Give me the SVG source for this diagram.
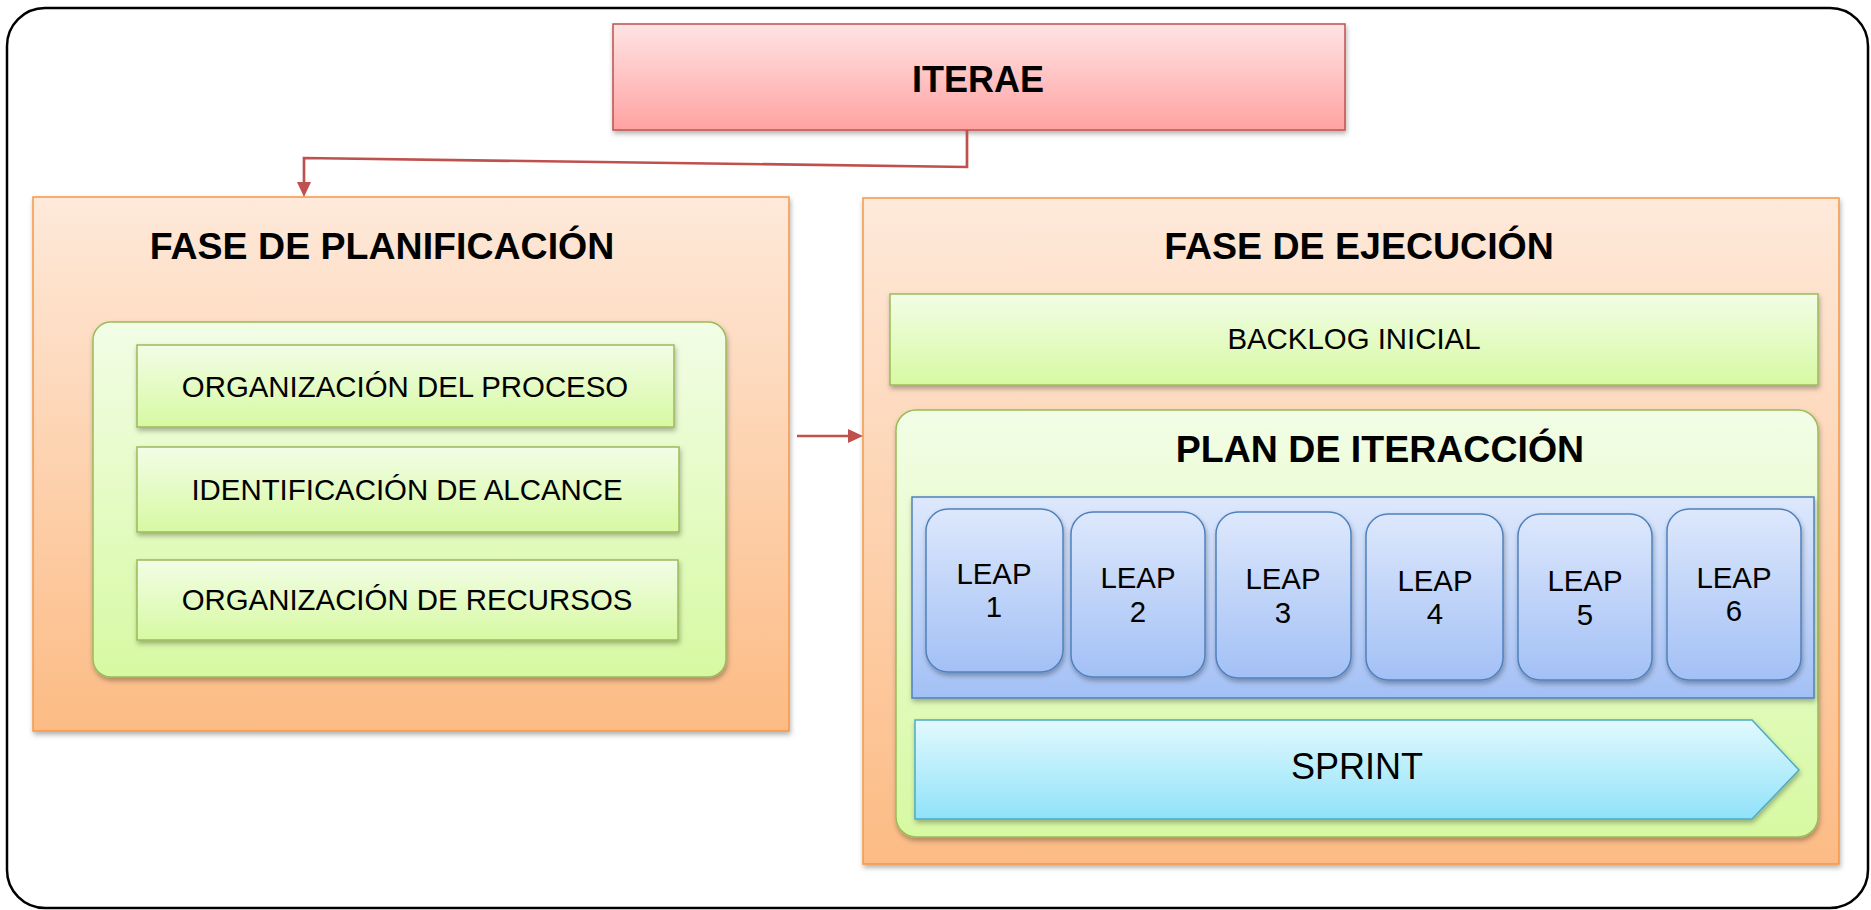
<svg xmlns="http://www.w3.org/2000/svg" width="1871" height="910" viewBox="0 0 1871 910">
  <defs>
    <linearGradient id="gRed" x1="0" y1="0" x2="0" y2="1">
      <stop offset="0" stop-color="#ffe4e4"/>
      <stop offset="1" stop-color="#ffa2a2"/>
    </linearGradient>
    <linearGradient id="gOrange" x1="0" y1="0" x2="0" y2="1">
      <stop offset="0" stop-color="#fee9da"/>
      <stop offset="1" stop-color="#fcbb84"/>
    </linearGradient>
    <linearGradient id="gGreen" x1="0" y1="0" x2="0" y2="1">
      <stop offset="0" stop-color="#f2fde6"/>
      <stop offset="1" stop-color="#d7f9a2"/>
    </linearGradient>
    <linearGradient id="gBlue" x1="0" y1="0" x2="0" y2="1">
      <stop offset="0" stop-color="#dde8fc"/>
      <stop offset="1" stop-color="#a3c0f5"/>
    </linearGradient>
    <linearGradient id="gCyan" x1="0" y1="0" x2="0" y2="1">
      <stop offset="0" stop-color="#e2f9fe"/>
      <stop offset="1" stop-color="#90e2f9"/>
    </linearGradient>
    <filter id="shadow" x="-5%" y="-5%" width="110%" height="120%">
      <feDropShadow dx="1" dy="3" stdDeviation="2.5" flood-color="#000" flood-opacity="0.3"/>
    </filter>
    <marker id="arr" viewBox="0 0 15 14" refX="0" refY="7" markerWidth="15" markerHeight="14" markerUnits="userSpaceOnUse" orient="auto">
      <path d="M0,0 L15,7 L0,14 Z" fill="#c0504d"/>
    </marker>
  </defs>
  <style>
    .red { fill: url(#gRed); stroke: #c0504d; stroke-width: 1.5; filter: url(#shadow); }
    .orange { fill: url(#gOrange); stroke: #f79646; stroke-width: 1.5; filter: url(#shadow); }
    .green { fill: url(#gGreen); stroke: #9bbb59; stroke-width: 1.5; filter: url(#shadow); }
    .blue { fill: url(#gBlue); stroke: #4f81bd; stroke-width: 1.5; filter: url(#shadow); }
    .cyan { fill: url(#gCyan); stroke: #4bacc6; stroke-width: 1.5; filter: url(#shadow); }
    .title { font-family: "Liberation Sans", Arial, sans-serif; font-weight: bold; font-size: 37.5px; fill: #000; text-anchor: middle; }
    .lbl { font-family: "Liberation Sans", Arial, sans-serif; font-size: 29.4px; fill: #000; text-anchor: middle; }
    .big { font-family: "Liberation Sans", Arial, sans-serif; font-size: 36px; fill: #000; text-anchor: middle; }
    .conn { fill: none; stroke: #c0504d; stroke-width: 2.7; }
  </style>

  <rect id="frame" x="7" y="8" width="1861" height="900" rx="38" ry="38" fill="#fff" stroke="#000" stroke-width="2.5"/>

  <g id="iterae">
    <rect class="red" x="613" y="24" width="732" height="106"/>
    <text class="title" x="978" y="92" style="font-size:36px">ITERAE</text>
  </g>

  <g id="fase-planificacion">
    <rect class="orange" x="33" y="197" width="756" height="534"/>
    <text class="title" x="382" y="259">FASE DE PLANIFICACIÓN</text>
  </g>

  <g id="planificacion-grupo">
    <rect class="green" x="93" y="322" width="633" height="355" rx="18" ry="18"/>
  </g>

  <g id="organizacion-proceso">
    <rect class="green" x="137" y="345" width="537" height="82"/>
    <text class="lbl" x="405" y="397">ORGANIZACIÓN DEL PROCESO</text>
  </g>

  <g id="identificacion-alcance">
    <rect class="green" x="137" y="447" width="542" height="85"/>
    <text class="lbl" x="407" y="500">IDENTIFICACIÓN DE ALCANCE</text>
  </g>

  <g id="organizacion-recursos">
    <rect class="green" x="137" y="560" width="541" height="80"/>
    <text class="lbl" x="407" y="610">ORGANIZACIÓN DE RECURSOS</text>
  </g>

  <g id="fase-ejecucion">
    <rect class="orange" x="863" y="198" width="976" height="666"/>
    <text class="title" x="1359" y="259">FASE DE EJECUCIÓN</text>
  </g>

  <g id="backlog-inicial">
    <rect class="green" x="890" y="294" width="928" height="91"/>
    <text class="lbl" x="1354" y="349">BACKLOG INICIAL</text>
  </g>

  <g id="plan-iteraccion">
    <rect class="green" x="896" y="410" width="922" height="427" rx="20" ry="20"/>
    <text class="title" x="1380" y="462">PLAN DE ITERACCIÓN</text>
  </g>

  <g id="leaps-contenedor">
    <rect class="blue" x="912" y="497" width="902" height="201"/>
  </g>

  <g id="leap1">
    <rect class="blue" x="926" y="509" width="137" height="163" rx="22" ry="22"/>
    <text class="lbl" x="994" y="584">LEAP</text>
    <text class="lbl" x="994" y="617">1</text>
  </g>
  <g id="leap2">
    <rect class="blue" x="1071" y="512" width="134" height="165" rx="22" ry="22"/>
    <text class="lbl" x="1138" y="588">LEAP</text>
    <text class="lbl" x="1138" y="622">2</text>
  </g>
  <g id="leap3">
    <rect class="blue" x="1216" y="512" width="135" height="166" rx="22" ry="22"/>
    <text class="lbl" x="1283" y="589">LEAP</text>
    <text class="lbl" x="1283" y="623">3</text>
  </g>
  <g id="leap4">
    <rect class="blue" x="1366" y="514" width="137" height="166" rx="22" ry="22"/>
    <text class="lbl" x="1435" y="591">LEAP</text>
    <text class="lbl" x="1435" y="624">4</text>
  </g>
  <g id="leap5">
    <rect class="blue" x="1518" y="514" width="134" height="166" rx="22" ry="22"/>
    <text class="lbl" x="1585" y="591">LEAP</text>
    <text class="lbl" x="1585" y="625">5</text>
  </g>
  <g id="leap6">
    <rect class="blue" x="1667" y="509" width="134" height="171" rx="22" ry="22"/>
    <text class="lbl" x="1734" y="588">LEAP</text>
    <text class="lbl" x="1734" y="621">6</text>
  </g>

  <g id="sprint">
    <path class="cyan" d="M915,720 L1752,720 L1799,770 L1752,819 L915,819 Z"/>
    <text class="big" x="1357" y="779">SPRINT</text>
  </g>

  <g id="connectors">
    <path class="conn" d="M967,130 L967,167 L304,158 L304,182" marker-end="url(#arr)"/>
    <path class="conn" d="M797,436 L848,436" marker-end="url(#arr)"/>
  </g>
</svg>
